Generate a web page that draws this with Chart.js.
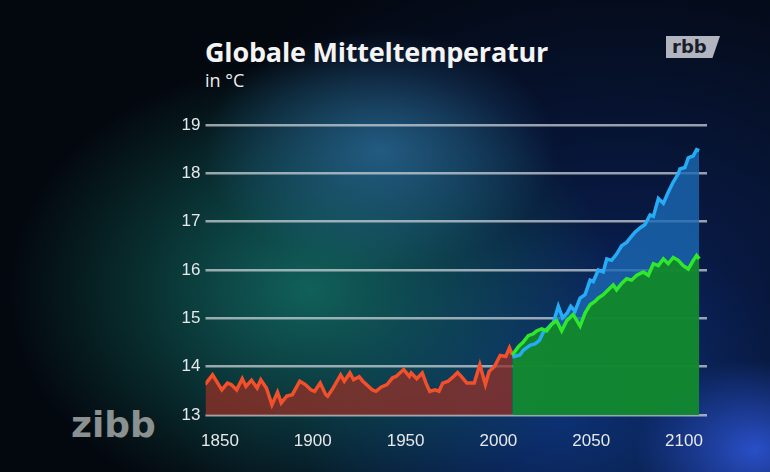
<!DOCTYPE html>
<html lang="de">

<head>
    <meta charset="UTF-8">
    <title>Globale Mitteltemperatur</title>
    <script src="https://cdn.jsdelivr.net/npm/chart.js"></script>
    <style>
        body {
            margin: 0;
            padding: 0;
            width: 770px;
            height: 472px;
            overflow: hidden;
            position: relative;
            font-family: "Liberation Sans", Arial, sans-serif;
            background:
                radial-gradient(ellipse 120px 90px at 755px 450px, rgba(45, 85, 215, 0.9), transparent),
                radial-gradient(ellipse 220px 150px at 380px 150px, rgba(45, 110, 160, 0.7), transparent 80%),
                radial-gradient(ellipse 380px 290px at 310px 290px, rgba(18, 105, 95, 0.9), transparent 80%),
                radial-gradient(ellipse 260px 200px at 560px 420px, rgba(15, 60, 140, 0.7), transparent),
                radial-gradient(ellipse 480px 380px at 620px 300px, rgba(12, 40, 110, 0.7), transparent),
                #03070e;
        }

        #wrap {
            position: absolute;
            left: 0;
            top: 0;
            width: 770px;
            height: 472px;
        }

        .title {
            position: absolute;
            left: 205px;
            top: 33px;
            color: #f4f4f4;
            font-family: "Open Sans", sans-serif;
            font-weight: bold;
            font-size: 27px;
            letter-spacing: -0.2px;
            white-space: nowrap;
        }

        .unit {
            position: absolute;
            left: 205px;
            top: 68px;
            color: #eeeeee;
            font-family: "Open Sans", sans-serif;
            font-size: 18px;
        }

        .rbb {
            position: absolute;
            left: 666px;
            top: 36px;
            width: 54px;
            height: 22px;
            background: #b2b5c0;
            clip-path: polygon(0 0, 100% 0, 86% 100%, 0 100%);
            color: #1a1d2a;
            font-family: "DejaVu Sans", sans-serif;
            font-weight: bold;
            font-size: 18px;
            line-height: 21px;
            padding-left: 6px;
            box-sizing: border-box;
        }

        .zibb {
            position: absolute;
            left: 71px;
            top: 404px;
            color: #8a9191;
            font-family: "DejaVu Sans", sans-serif;
            font-weight: bold;
            font-size: 36px;
            letter-spacing: 0px;
        }
    </style>
</head>

<body>
    <div class="title">Globale Mitteltemperatur</div>
    <div class="unit">in °C</div>
    <div class="rbb">rbb</div>
    <div class="zibb">zibb</div>
    <div id="wrap"><canvas id="chart" width="770" height="472"></canvas></div>

    <script>
        // Werte
        const xTicks = [1850, 1900, 1950, 2000, 2050, 2100];
        const yTicks = [13, 14, 15, 16, 17, 18, 19];

        const redYears = [1842, 1846, 1851, 1854, 1856, 1859, 1862, 1864, 1867, 1870, 1872, 1875, 1878, 1881, 1883,
            1886, 1889, 1893, 1896, 1899, 1901, 1904, 1907, 1908, 1911, 1915, 1917, 1920, 1922, 1925, 1927, 1932,
            1934, 1937, 1940, 1943, 1945, 1949, 1952, 1953, 1956, 1959, 1961, 1963, 1966, 1968, 1970, 1973, 1976,
            1978, 1980, 1983, 1987, 1990, 1993, 1995, 1998, 2001, 2004, 2006, 2007.5];
        const redTemps = [13.63, 13.83, 13.52, 13.66, 13.63, 13.52, 13.75, 13.59, 13.72, 13.56, 13.73, 13.56, 13.21,
            13.47, 13.25, 13.39, 13.42, 13.70, 13.63, 13.52, 13.49, 13.66, 13.42, 13.39, 13.56, 13.83, 13.70, 13.87,
            13.73, 13.79, 13.70, 13.52, 13.49, 13.58, 13.63, 13.77, 13.80, 13.94, 13.80, 13.87, 13.75, 13.87, 13.66,
            13.49, 13.52, 13.49, 13.66, 13.70, 13.80, 13.88, 13.80, 13.66, 13.66, 14.04, 13.63, 13.90, 14.01, 14.23,
            14.21, 14.39, 14.25];

        const blueYears = [2007.5, 2011.6, 2013.4, 2017.0, 2019.7, 2022.0, 2024.2, 2026.9, 2029.6, 2032.3, 2034.6,
            2037.1, 2039.0, 2041.3, 2044.0, 2046.7, 2049.4, 2051.1, 2053.8, 2056.5, 2058.4, 2061.0, 2063.7, 2066.4,
            2069.1, 2071.8, 2073.6, 2076.3, 2079.0, 2081.7, 2083.5, 2086.2, 2088.9, 2091.5, 2094.2, 2096.9, 2097.8,
            2100.5, 2102.3, 2105.0, 2106.8, 2108.2];
        const blueTemps = [14.20, 14.24, 14.34, 14.44, 14.47, 14.54, 14.71, 14.81, 14.91, 15.25, 15.01, 15.11, 15.25,
            15.15, 15.42, 15.49, 15.79, 15.76, 16.00, 15.96, 16.23, 16.20, 16.33, 16.50, 16.57, 16.70, 16.78, 16.87,
            16.94, 17.14, 17.11, 17.48, 17.38, 17.61, 17.82, 17.99, 18.09, 18.12, 18.32, 18.36, 18.49, 18.47];

        const greenYears = [2007.5, 2010.7, 2013.4, 2016.1, 2018.8, 2020.6, 2023.3, 2026.0, 2028.7, 2031.4, 2034.1,
            2036.8, 2040.3, 2044.0, 2046.7, 2049.4, 2052.0, 2053.8, 2056.5, 2059.2, 2061.9, 2063.7, 2066.4, 2069.1,
            2071.8, 2074.5, 2078.1, 2080.8, 2083.5, 2086.2, 2088.9, 2091.5, 2094.2, 2096.9, 2099.6, 2102.3, 2105.0,
            2106.8, 2108.2];
        const greenTemps = [14.24, 14.41, 14.51, 14.64, 14.68, 14.74, 14.78, 14.74, 14.88, 14.95, 14.74, 14.95, 15.08,
            14.84, 15.11, 15.28, 15.35, 15.42, 15.49, 15.59, 15.69, 15.59, 15.72, 15.82, 15.79, 15.89, 15.96, 15.89,
            16.13, 16.09, 16.23, 16.13, 16.26, 16.20, 16.09, 16.02, 16.20, 16.30, 16.23];

        function toPoints(xs, ys) {
            return xs.map((x, i) => ({ x: x, y: ys[i] }));
        }

        const labelFont = { family: "'Liberation Sans', Arial, sans-serif", size: 17 };

        new Chart(document.getElementById("chart"), {
            type: "line",
            data: {
                datasets: [
                    {
                        label: "Szenario niedrig",
                        data: toPoints(greenYears, greenTemps),
                        borderColor: "#2fe82c",
                        backgroundColor: "rgba(18, 138, 40, 0.92)",
                        fill: "start",
                        order: 0
                    },
                    {
                        label: "Szenario hoch",
                        data: toPoints(blueYears, blueTemps),
                        borderColor: "#26acf6",
                        backgroundColor: "rgba(28, 105, 180, 0.8)",
                        fill: "start",
                        order: 1
                    },
                    {
                        label: "Messung",
                        data: toPoints(redYears, redTemps),
                        borderColor: "#f2502a",
                        backgroundColor: "rgba(150, 48, 38, 0.75)",
                        fill: "start",
                        order: 2
                    }
                ]
            },
            options: {
                responsive: false,
                animation: false,
                layout: {
                    padding: { left: 0, right: 63, top: 125, bottom: 0 }
                },
                elements: {
                    point: { radius: 0 },
                    line: { borderWidth: 3.5, tension: 0 }
                },
                plugins: {
                    legend: { display: false },
                    tooltip: { enabled: false },
                    filler: { drawTime: "beforeDatasetsDraw" }
                },
                scales: {
                    x: {
                        type: "linear",
                        min: 1842.2,
                        max: 2112.4,
                        afterBuildTicks: (scale) => {
                            scale.ticks = xTicks.map(v => ({ value: v }));
                        },
                        afterFit: (scale) => { scale.height = 57; },
                        grid: { display: false },
                        border: { display: false },
                        ticks: {
                            color: "#e6e8ea",
                            font: labelFont,
                            padding: 8,
                            maxRotation: 0,
                            callback: (v) => String(v)
                        }
                    },
                    y: {
                        min: 13,
                        max: 19,
                        afterBuildTicks: (scale) => {
                            scale.ticks = yTicks.map(v => ({ value: v }));
                        },
                        afterFit: (scale) => { scale.width = 205.5; },
                        grid: {
                            color: "rgba(200, 208, 214, 0.75)",
                            lineWidth: 2.5,
                            tickLength: 0
                        },
                        border: { display: false },
                        ticks: {
                            color: "#e6e8ea",
                            font: labelFont,
                            padding: 5
                        }
                    }
                }
            }
        });
    </script>
</body>

</html>
